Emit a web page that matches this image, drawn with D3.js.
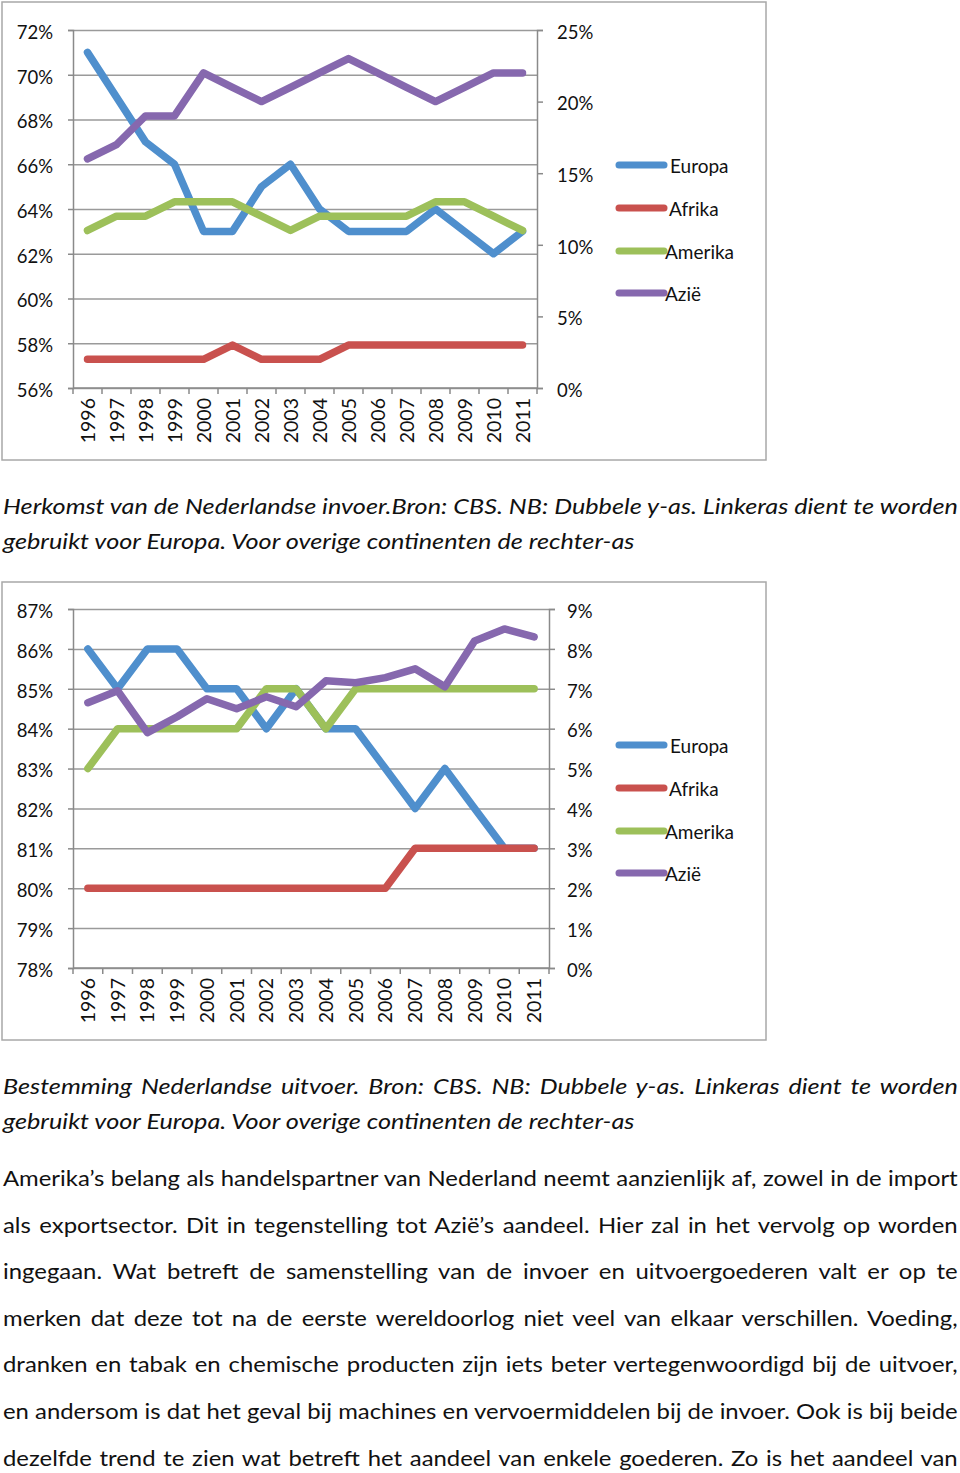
<!DOCTYPE html>
<html>
<head>
<meta charset="utf-8">
<script src="https://cdn.jsdelivr.net/npm/d3@7"></script>
<style>
  html, body { margin: 0; padding: 0; background: #fff; }
  svg { display: block; }
</style>
</head>
<body>
<svg id="page" width="960" height="1473"></svg>
<script>
// ---------- DATA ----------
const years = ["1996","1997","1998","1999","2000","2001","2002","2003","2004","2005","2006","2007","2008","2009","2010","2011"];
const seriesNames = ["Europa", "Afrika", "Amerika", "Azië"];

// Chart 1: import (Europa on left axis, rest on right axis)
const importEuropa  = [71, 69, 67, 66, 63, 63, 65, 66, 64, 63, 63, 63, 64, 63, 62, 63];
const importAfrika  = [2, 2, 2, 2, 2, 3, 2, 2, 2, 3, 3, 3, 3, 3, 3, 3];
const importAmerika = [11, 12, 12, 13, 13, 13, 12, 11, 12, 12, 12, 12, 13, 13, 12, 11];
const importAzie    = [16, 17, 19, 19, 22, 21, 20, 21, 22, 23, 22, 21, 20, 21, 22, 22];
const importLeftTicks  = [56, 58, 60, 62, 64, 66, 68, 70, 72];
const importRightTicks = [0, 5, 10, 15, 20, 25];

// Chart 2: export
const exportEuropa  = [86, 85, 86, 86, 85, 85, 84, 85, 84, 84, 83, 82, 83, 82, 81, 81];
const exportAfrika  = [2, 2, 2, 2, 2, 2, 2, 2, 2, 2, 2, 3, 3, 3, 3, 3];
const exportAmerika = [5, 6, 6, 6, 6, 6, 7, 7, 6, 7, 7, 7, 7, 7, 7, 7];
const exportAzie    = [6.65, 6.95, 5.9, 6.3, 6.75, 6.5, 6.8, 6.55, 7.2, 7.15, 7.28, 7.5, 7.05, 8.2, 8.5, 8.3];
const exportLeftTicks  = [78, 79, 80, 81, 82, 83, 84, 85, 86, 87];
const exportRightTicks = [0, 1, 2, 3, 4, 5, 6, 7, 8, 9];

const caption1 = ["Herkomst van de Nederlandse invoer.Bron: CBS. NB: Dubbele y-as. Linkeras dient te worden",
                  "gebruikt voor Europa. Voor overige continenten de rechter-as"];
const caption2 = ["Bestemming Nederlandse uitvoer. Bron: CBS. NB: Dubbele y-as. Linkeras dient te worden",
                  "gebruikt voor Europa. Voor overige continenten de rechter-as"];
const bodyLines = [
  "Amerika’s belang als handelspartner van Nederland neemt aanzienlijk af, zowel in de import",
  "als exportsector. Dit in tegenstelling tot Azië’s aandeel. Hier zal in het vervolg op worden",
  "ingegaan. Wat betreft de samenstelling van de invoer en uitvoergoederen valt er op te",
  "merken dat deze tot na de eerste wereldoorlog niet veel van elkaar verschillen. Voeding,",
  "dranken en tabak en chemische producten zijn iets beter vertegenwoordigd bij de uitvoer,",
  "en andersom is dat het geval bij machines en vervoermiddelen bij de invoer. Ook is bij beide",
  "dezelfde trend te zien wat betreft het aandeel van enkele goederen. Zo is het aandeel van"
];

// ---------- STYLE ----------
const colors = { "Europa": "#4f8fcd", "Afrika": "#c9514e", "Amerika": "#9dc05a", "Azië": "#8668ae" };
const FONT = "Lato, 'Open Sans', sans-serif";
const gridColor = "#9a9a9a";
const axisColor = "#8a8a8a";

const svg = d3.select("#page");
svg.append("rect").attr("width", 960).attr("height", 1473).attr("fill", "#fff");

function drawChart(cfg) {
  const g = svg.append("g");
  g.append("rect")
    .attr("x", cfg.frame[0]).attr("y", cfg.frame[1])
    .attr("width", cfg.frame[2]).attr("height", cfg.frame[3])
    .attr("fill", "#fff").attr("stroke", "#a8a8a8").attr("stroke-width", 1.5);

  const x = d3.scaleBand().domain(years).range([cfg.left, cfg.right]);
  const xc = d => x(d) + x.bandwidth() / 2;
  const yL = d3.scaleLinear().domain(cfg.leftDomain).range([cfg.bottom, cfg.top]);
  const yR = d3.scaleLinear().domain(cfg.rightDomain).range([cfg.bottom, cfg.top]);

  // gridlines
  g.append("g").attr("transform", `translate(${cfg.left},0)`)
    .call(d3.axisLeft(yL).tickValues(cfg.leftTicks).tickSize(-(cfg.right - cfg.left)).tickFormat(""))
    .call(a => a.select(".domain").remove())
    .call(a => a.selectAll("line").attr("stroke", gridColor).attr("stroke-width", 1.5));

  // left axis
  const la = g.append("g").attr("transform", `translate(${cfg.left},0)`)
    .call(d3.axisLeft(yL).tickValues(cfg.leftTicks).tickSize(5).tickPadding(15).tickFormat(d => d + "%"));
  la.select(".domain").attr("stroke", axisColor).attr("stroke-width", 1.5);
  la.selectAll("line").attr("stroke", axisColor).attr("stroke-width", 1.5);
  la.selectAll("text").attr("font-family", FONT).attr("font-size", 18.5).attr("fill", "#111").attr("dy", "0.45em");

  // right axis
  const ra = g.append("g").attr("transform", `translate(${cfg.right},0)`)
    .call(d3.axisRight(yR).tickValues(cfg.rightTicks).tickSize(6).tickPadding(cfg.rightPad).tickFormat(d => d + "%"));
  ra.select(".domain").attr("stroke", axisColor).attr("stroke-width", 1.5);
  ra.selectAll("line").attr("stroke", axisColor).attr("stroke-width", 1.5);
  ra.selectAll("text").attr("font-family", FONT).attr("font-size", 18.5).attr("fill", "#111").attr("dy", "0.45em");

  // bottom axis line + boundary ticks
  g.append("line").attr("x1", cfg.left).attr("x2", cfg.right)
    .attr("y1", cfg.bottom).attr("y2", cfg.bottom)
    .attr("stroke", axisColor).attr("stroke-width", 1.5);
  const bounds = years.map(d => x(d)).concat([cfg.right]);
  g.selectAll(".bt").data(bounds).enter().append("line")
    .attr("x1", d => d).attr("x2", d => d)
    .attr("y1", cfg.bottom).attr("y2", cfg.bottom + 6)
    .attr("stroke", axisColor).attr("stroke-width", 1.5);
  // year labels rotated
  g.selectAll(".yl").data(years).enter().append("text")
    .attr("transform", d => `translate(${xc(d) + 7},${cfg.bottom + 10}) rotate(-90)`)
    .attr("text-anchor", "end")
    .attr("font-family", FONT).attr("font-size", 19.5).attr("fill", "#111")
    .text(d => d);

  // lines
  const series = [
    { name: "Europa", vals: cfg.europa, y: yL },
    { name: "Afrika", vals: cfg.afrika, y: yR },
    { name: "Amerika", vals: cfg.amerika, y: yR },
    { name: "Azië", vals: cfg.azie, y: yR }
  ];
  series.forEach(s => {
    const line = d3.line().x((d, i) => xc(years[i])).y(d => s.y(d));
    g.append("path").datum(s.vals)
      .attr("d", line)
      .attr("fill", "none")
      .attr("stroke", colors[s.name])
      .attr("stroke-width", 7.5)
      .attr("stroke-linejoin", "round")
      .attr("stroke-linecap", "round");
  });

  // legend
  const legX = [[619, 664, 670], [619, 664, 669], [619, 664, 665], [619, 664, 665]];
  const legY = [165, 208, 251, 293].map(v => v + cfg.frame[1] - 2);
  seriesNames.forEach((n, i) => {
    g.append("line").attr("x1", legX[i][0]).attr("x2", legX[i][1])
      .attr("y1", legY[i]).attr("y2", legY[i])
      .attr("stroke", colors[n]).attr("stroke-width", 7).attr("stroke-linecap", "round");
    g.append("text").attr("x", legX[i][2]).attr("y", legY[i] + 8)
      .attr("font-family", FONT).attr("font-size", 19).attr("fill", "#111")
      .text(n);
  });
}

drawChart({
  frame: [2, 2, 764, 458],
  left: 73, right: 537, top: 30, bottom: 388,
  leftDomain: [56, 72], rightDomain: [0, 25],
  leftTicks: importLeftTicks, rightTicks: importRightTicks, rightPad: 14,
  europa: importEuropa, afrika: importAfrika, amerika: importAmerika, azie: importAzie
});
drawChart({
  frame: [2, 582, 764, 458],
  left: 73, right: 549, top: 609, bottom: 968,
  leftDomain: [78, 87], rightDomain: [0, 9],
  leftTicks: exportLeftTicks, rightTicks: exportRightTicks, rightPad: 12,
  europa: exportEuropa, afrika: exportAfrika, amerika: exportAmerika, azie: exportAzie
});

// ---------- TEXT ----------
// Lines are horizontally scaled (sx) so the tightest line fills the column,
// then each justified line gets extra word spacing.
const TARGET = 955;
function measure(str, size, italic) {
  const t = svg.append("text").attr("font-family", FONT).attr("font-size", size)
    .attr("font-style", italic ? "italic" : "normal").text(str);
  const w = t.node().getComputedTextLength();
  t.remove();
  return w;
}
function textBlock(lines, y0, dy, size, italic, justify, sx) {
  lines.forEach((str, i) => {
    const w = measure(str, size, italic);
    const g = svg.append("g").attr("transform", `translate(3,${y0 + i * dy}) scale(${sx},1)`);
    const t = g.append("text").attr("x", 0).attr("y", 0)
      .attr("font-family", FONT).attr("font-size", size)
      .attr("font-style", italic ? "italic" : "normal")
      .attr("fill", "#111").text(str);
    const spaces = (str.match(/ /g) || []).length;
    if (justify[i] && spaces > 0) t.attr("word-spacing", (TARGET / sx - w) / spaces);
  });
}
const capSx = TARGET / measure(caption1[0], 21, true);
const bodySx = TARGET / d3.max(bodyLines, l => measure(l, 21, false));
textBlock(caption1, 514, 35, 21, true, [true, false], capSx);
textBlock(caption2, 1094, 35, 21, true, [true, false], capSx);
textBlock(bodyLines, 1186, 46.6, 21, false, bodyLines.map(() => true), bodySx);
</script>
</body>
</html>
